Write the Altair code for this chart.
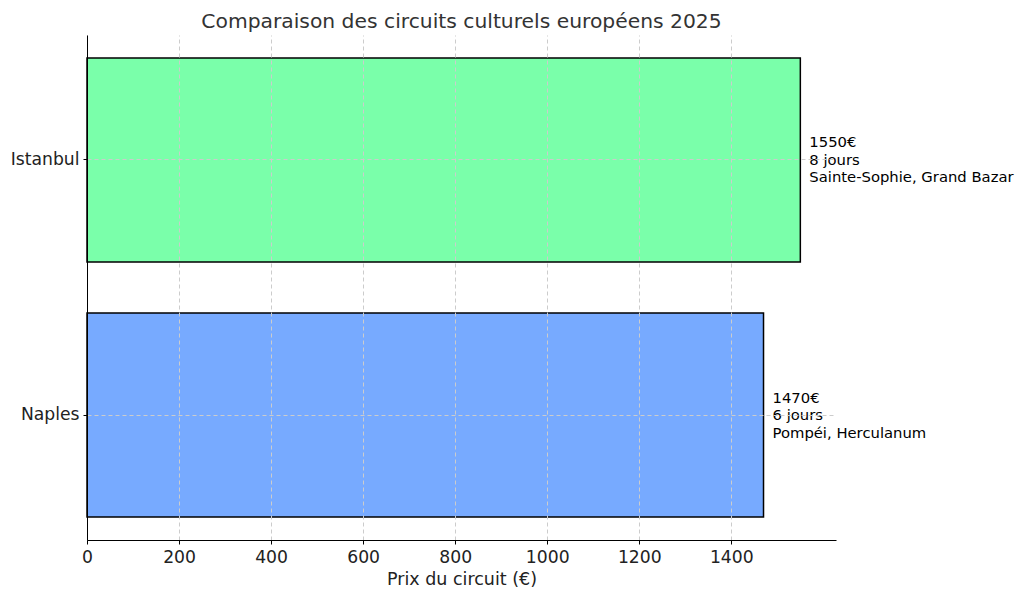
import altair as alt
import pandas as pd

cities = ["Istanbul", "Naples"]
prices = [1550, 1470]
days = ["8 jours", "6 jours"]
sites = ["Sainte-Sophie, Grand Bazar", "Pompéi, Herculanum"]
colors = ["#7affaa", "#77aaff"]

df = pd.DataFrame({
    "city": cities,
    "price": prices,
    "label": [f"{p}€\n{d}\n{s}" for p, d, s in zip(prices, days, sites)],
    "color": colors,
})

FONT = "DejaVu Sans"

y = alt.Y("city:N", sort=cities, title=None,
          scale=alt.Scale(paddingInner=0.2, paddingOuter=0.09),
          axis=alt.Axis(bandPosition=0.5, grid=True, gridDash=[4, 3], gridColor="#cccccc",
                        domainColor="#000000", tickColor="#000000", tickSize=4,
                        labelFontSize=17.2, labelColor="#222222", labelFont=FONT,
                        labelPadding=4, zindex=1))
x = alt.X("price:Q", title="Prix du circuit (€)",
          scale=alt.Scale(domain=[0, 1627.5], nice=False, zero=True),
          axis=alt.Axis(values=[0, 200, 400, 600, 800, 1000, 1200, 1400], format="d",
                        grid=True, gridDash=[4, 3], gridColor="#cccccc",
                        domainColor="#000000", tickColor="#000000", tickSize=4,
                        labelFontSize=17.2, labelColor="#222222", labelFont=FONT,
                        titleFontSize=17.5, titleFont=FONT, titleFontWeight="normal",
                        titleColor="#222222", titlePadding=5, labelPadding=4, zindex=1))

bars = alt.Chart(df).mark_bar(stroke="#000000", strokeWidth=1.5).encode(
    y=y, x=x, color=alt.Color("color:N", scale=None)
)

texts = alt.Chart(df).mark_text(align="left", baseline="middle", dx=9, dy=-16.5, lineBreak="\n",
                                lineHeight=17.5, fontSize=14.8, font=FONT, color="#000000").encode(
    y=alt.Y("city:N", sort=cities),
    x=alt.X("price:Q"),
    text="label:N",
)

chart = alt.layer(bars, texts).properties(
    width=749, height=505,
    title=alt.TitleParams("Comparaison des circuits culturels européens 2025",
                          font=FONT, fontSize=20.3, fontWeight="normal",
                          color="#333333", anchor="middle", offset=3),
    autosize=alt.AutoSizeParams(type="none"),
    padding={"left": 79, "top": 27, "right": 180, "bottom": 50},
).configure_view(stroke=None).configure_axis(labelFlush=False)

chart.save("out.html", embed_options={"renderer": "svg", "actions": False})
